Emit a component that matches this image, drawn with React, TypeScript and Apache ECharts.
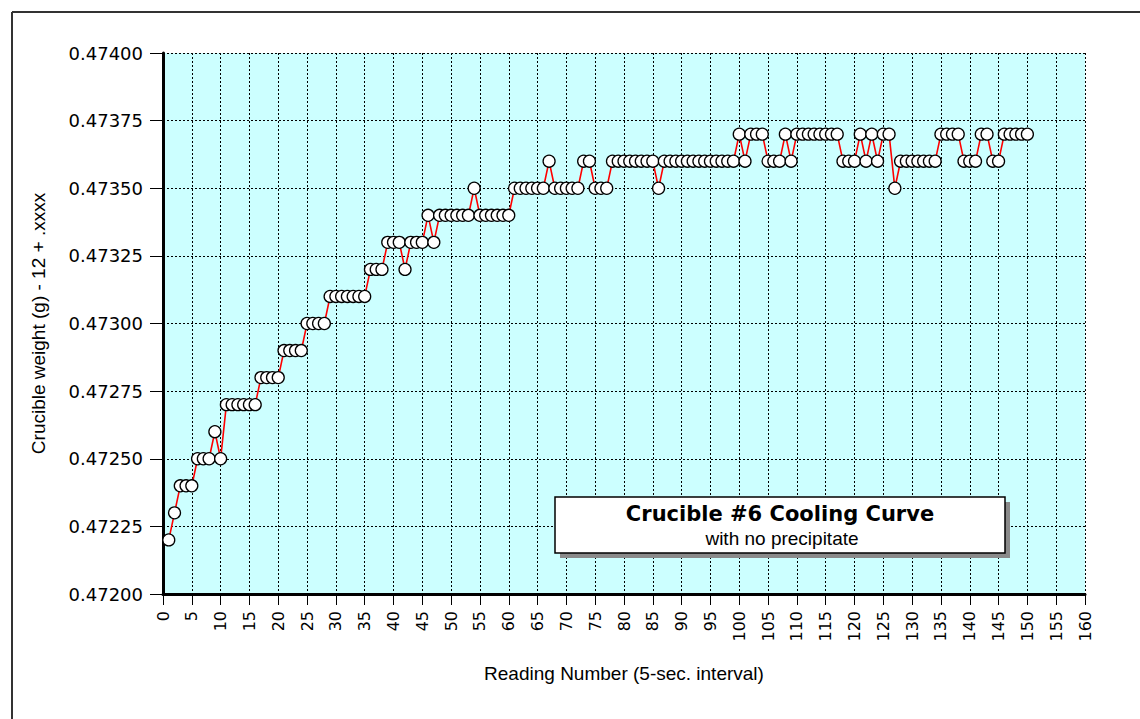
import React, { useEffect, useRef } from "react";
import * as echarts from "echarts";

// Reading numbers run 1..150 (one reading every 5 seconds)
const weights: number[] = [
  0.4722, 0.4723, 0.4724, 0.4724, 0.4724, 0.4725, 0.4725, 0.4725, 0.4726, 0.4725,
  0.4727, 0.4727, 0.4727, 0.4727, 0.4727, 0.4727, 0.4728, 0.4728, 0.4728, 0.4728,
  0.4729, 0.4729, 0.4729, 0.4729, 0.4730, 0.4730, 0.4730, 0.4730, 0.4731, 0.4731,
  0.4731, 0.4731, 0.4731, 0.4731, 0.4731, 0.4732, 0.4732, 0.4732, 0.4733, 0.4733,
  0.4733, 0.4732, 0.4733, 0.4733, 0.4733, 0.4734, 0.4733, 0.4734, 0.4734, 0.4734,
  0.4734, 0.4734, 0.4734, 0.4735, 0.4734, 0.4734, 0.4734, 0.4734, 0.4734, 0.4734,
  0.4735, 0.4735, 0.4735, 0.4735, 0.4735, 0.4735, 0.4736, 0.4735, 0.4735, 0.4735,
  0.4735, 0.4735, 0.4736, 0.4736, 0.4735, 0.4735, 0.4735, 0.4736, 0.4736, 0.4736,
  0.4736, 0.4736, 0.4736, 0.4736, 0.4736, 0.4735, 0.4736, 0.4736, 0.4736, 0.4736,
  0.4736, 0.4736, 0.4736, 0.4736, 0.4736, 0.4736, 0.4736, 0.4736, 0.4736, 0.4737,
  0.4736, 0.4737, 0.4737, 0.4737, 0.4736, 0.4736, 0.4736, 0.4737, 0.4736, 0.4737,
  0.4737, 0.4737, 0.4737, 0.4737, 0.4737, 0.4737, 0.4737, 0.4736, 0.4736, 0.4736,
  0.4737, 0.4736, 0.4737, 0.4736, 0.4737, 0.4737, 0.4735, 0.4736, 0.4736, 0.4736,
  0.4736, 0.4736, 0.4736, 0.4736, 0.4737, 0.4737, 0.4737, 0.4737, 0.4736, 0.4736,
  0.4736, 0.4737, 0.4737, 0.4736, 0.4736, 0.4737, 0.4737, 0.4737, 0.4737, 0.4737,
];

const xMin = 0;
const xMax = 160;
const xStep = 5;
const yMin = 0.472;
const yMax = 0.474;
const yStep = 0.00025;

const titleText = "Crucible #6 Cooling Curve";
const subtitleText = "with no precipitate";
const xName = "Reading Number (5-sec. interval)";
const yName = "Crucible weight (g) - 12 + .xxxx";

export default function App() {
  const ref = useRef<HTMLDivElement>(null);

  useEffect(() => {
    if (!ref.current) return;
    const chart = echarts.init(ref.current, null, { renderer: "svg" });
    const font = "'Liberation Sans', Arial, sans-serif";
    const numFont = "'DejaVu Sans', sans-serif";
    const points = weights.map((w, i) => [i + 1, w]);

    chart.setOption({
      animation: false,
      backgroundColor: "#ffffff",
      grid: {
        left: 163,
        right: 55,
        top: 53,
        bottom: 125,
        show: true,
        backgroundColor: "#ccffff",
        borderWidth: 0,
      },
      xAxis: {
        type: "value",
        min: xMin,
        max: xMax,
        interval: xStep,
        name: xName,
        nameLocation: "middle",
        nameGap: 70,
        nameTextStyle: { fontFamily: font, fontSize: 19, color: "#000" },
        axisLine: { show: true, onZero: false, lineStyle: { color: "#000", width: 3 } },
        axisTick: { show: true, length: 11, lineStyle: { color: "#000", width: 1 } },
        axisLabel: {
          rotate: 90,
          margin: 17,
          fontFamily: numFont,
          fontSize: 16,
          color: "#000",
        },
        splitLine: { show: true, lineStyle: { color: "#000", width: 1, type: [2, 2] } },
      },
      yAxis: {
        type: "value",
        min: yMin,
        max: yMax,
        interval: yStep,
        name: yName,
        nameLocation: "middle",
        nameGap: 115,
        nameTextStyle: { fontFamily: font, fontSize: 19, color: "#000" },
        axisLine: { show: true, onZero: false, lineStyle: { color: "#000", width: 3 } },
        axisTick: { show: true, length: 13, lineStyle: { color: "#000", width: 1 } },
        axisLabel: {
          margin: 20,
          fontFamily: numFont,
          fontSize: 18,
          color: "#000",
          formatter: (v: number) => v.toFixed(5),
        },
        splitLine: { show: true, lineStyle: { color: "#000", width: 1, type: [2, 2] } },
      },
      series: [
        {
          type: "line",
          data: points,
          symbol: "circle",
          symbolSize: 12,
          showAllSymbol: true,
          lineStyle: { color: "#ff0000", width: 1.6 },
          itemStyle: { color: "#ffffff", borderColor: "#000000", borderWidth: 1.3 },
          z: 3,
        },
      ],
      graphic: [
        { type: "line", shape: { x1: 12, y1: 12, x2: 1140, y2: 12 }, style: { stroke: "#333", lineWidth: 2 } },
        { type: "line", shape: { x1: 12, y1: 12, x2: 12, y2: 719 }, style: { stroke: "#333", lineWidth: 2 } },
        {
          type: "rect",
          shape: { x: 560, y: 502, width: 450, height: 56 },
          style: { fill: "#8a8a8a" },
          z: 10,
        },
        {
          type: "rect",
          shape: { x: 555, y: 497, width: 450, height: 56 },
          style: { fill: "#ffffff", stroke: "#000", lineWidth: 1.5 },
          z: 11,
        },
        {
          type: "text",
          x: 780,
          y: 514,
          style: {
            text: titleText,
            fontFamily: numFont,
            fontWeight: "bold",
            fontSize: 21,
            fill: "#000",
            align: "center",
            verticalAlign: "middle",
          },
          z: 12,
        },
        {
          type: "text",
          x: 782,
          y: 538,
          style: {
            text: subtitleText,
            fontFamily: font,
            fontSize: 19,
            fill: "#000",
            align: "center",
            verticalAlign: "middle",
          },
          z: 12,
        },
      ],
    });

    return () => chart.dispose();
  }, []);

  return (
    <div
      ref={ref}
      style={{ position: "fixed", left: 0, top: 0, width: 1140, height: 719 }}
    />
  );
}
